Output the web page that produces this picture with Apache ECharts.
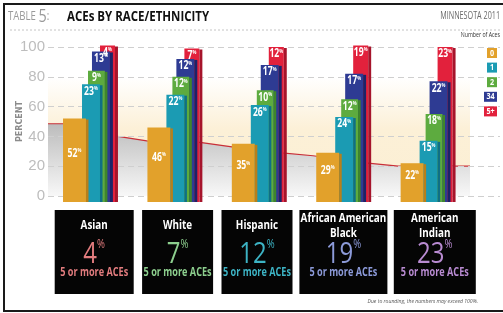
<!DOCTYPE html>
<html>
<head>
<meta charset="utf-8">
<script src="https://cdn.jsdelivr.net/npm/echarts@6/dist/echarts.min.js"></script>
<style>
  html, body { margin: 0; padding: 0; background: #fff; }
  #chart { width: 503px; height: 313px; }
</style>
</head>
<body>
<div id="chart"></div>
<script>
// groups and ACE levels
const categories = ['Asian', 'White', 'Hispanic', 'African American\nBlack', 'American\nIndian']
const aceLevels = ['0', '1', '2', '34', '5+']

// percent of each group with 0, 1, 2, 3-4, 5+ ACEs
const pctAce0 = [52, 46, 35, 29, 22]
const pctAce1 = [23, 22, 26, 24, 15]
const pctAce2 = [9, 12, 10, 12, 18]
const pctAce34 = [13, 12, 17, 17, 22]
const pctAce5 = [4, 7, 12, 19, 23]

// decorative floor line behind the bars [x in category units, percent]
const floorLine = [[-0.5, 48.5], [-0.32, 48.5], [0.33, 40], [0.67, 37], [1.3, 36], [1.68, 33],
  [2.27, 29], [2.64, 27], [3.29, 22], [3.65, 20], [4.5, 20]]

const yTicks = [0, 20, 40, 60, 80, 100]

// styling / layout
const FONT = "'Open Sans', 'Liberation Sans', sans-serif"
const barColors = ['#e2a12b', '#1b9bb3', '#5dab3f', '#2e3b93', '#e2213c']
const sideColors = ['#b87f1a', '#0f6f86', '#3f862a', '#1b2468', '#a6142b']
const barSlots = [
  { left: -0.322, width: 0.272, side: 0.03 },
  { left: -0.097, width: 0.213, side: 0.03 },
  { left: -0.026, width: 0.2, side: 0.03 },
  { left: 0.021, width: 0.213, side: 0.035 },
  { left: 0.116, width: 0.178, side: 0.035 }
]
const boxColors = ['#e27c7e', '#8dcf8e', '#3db4c5', '#8c9ad9', '#b98bd2']
const boxW = [79, 71, 71, 88, 82]
const boxDx = [4, 3, -2, 0, 7]

const levels = [pctAce0, pctAce1, pctAce2, pctAce34, pctAce5]

function makeRender(k, labelOnly) {
  return function (params, api) {
    const i = api.value(0)
    const top = api.value(1)
    const pct = api.value(2)
    const bw = api.size([1, 0])[0]
    const base = api.coord([i, 0])
    const head = api.coord([i, top])
    const slot = barSlots[k]
    const x = base[0] + slot.left * bw
    const w = slot.width * bw
    const sw = slot.side * bw
    const yTop = head[1]
    const yBot = base[1] + 6
    if (labelOnly) {
      const labelY = k === 0 ? (yTop + base[1]) / 2 - 4 : yTop + 7
      return {
        type: 'text', x: x + w / 2, y: labelY, scaleX: 0.72,
        style: {
          text: '{v|' + pct + '}{p|%}', align: 'center', verticalAlign: 'middle', fill: '#fff',
          rich: {
            v: { fontSize: 12, fontWeight: 'bold', fontFamily: FONT, fill: '#fff' },
            p: { fontSize: 6, fontWeight: 'bold', fontFamily: FONT, fill: '#fff', verticalAlign: 'top' }
          }
        }
      }
    }
    return {
      type: 'group',
      children: [
        { type: 'rect', shape: { x: x, y: yTop, width: w, height: yBot - yTop }, style: { fill: barColors[k] } },
        { type: 'rect', shape: { x: x + w, y: yTop + 1, width: sw, height: yBot - yTop - 1 }, style: { fill: sideColors[k] } }
      ]
    }
  }
}

function levelData(k) {
  return categories.map((c, i) => {
    let top = 0
    for (let j = 0; j <= k; j++) top += levels[j][i]
    return [i, top, levels[k][i]]
  })
}

const chart = echarts.init(document.getElementById('chart'))

const barSeries = levels.map((arr, k) => ({
  name: aceLevels[k],
  type: 'custom',
  z: 10 - k,
  renderItem: makeRender(k, false),
  encode: { x: 0, y: 1 },
  data: levelData(k)
}))
const labelSeries = levels.map((arr, k) => ({
  name: aceLevels[k] + ' label',
  type: 'custom',
  z: 20 - k,
  silent: true,
  renderItem: makeRender(k, true),
  encode: { x: 0, y: 1 },
  data: levelData(k)
}))

const option = {
  animation: false,
  grid: [
    {
      left: 48, right: 33, top: 47, bottom: 117, show: true, borderWidth: 0, z: 0,
      backgroundColor: {
        type: 'linear', x: 0, y: 0, x2: 0, y2: 1,
        colorStops: [
          { offset: 0, color: '#ffffff' },
          { offset: 0.2, color: '#ffffff' },
          { offset: 0.55, color: '#fcf0d7' },
          { offset: 1, color: '#fbefd3' }
        ]
      }
    },
    { left: 48, right: 3, top: 47, bottom: 117 }
  ],
  xAxis: [
    { type: 'category', gridIndex: 0, data: categories, show: false },
    { type: 'value', gridIndex: 0, min: -0.5, max: 4.5, show: false },
    { type: 'value', gridIndex: 1, show: false }
  ],
  yAxis: [
    { type: 'value', gridIndex: 0, min: 0, max: 100, show: false },
    {
      type: 'value', gridIndex: 1, min: yTicks[0], max: yTicks[yTicks.length - 1], interval: 20, z: 3,
      name: 'PERCENT', nameLocation: 'middle', nameRotate: 90, nameGap: 24, nameMoveOverlap: false,
      nameTextStyle: { fontSize: 8, fontWeight: 'bold', color: '#8c8c8c', fontFamily: 'DejaVu Sans, sans-serif' },
      axisLine: { show: false }, axisTick: { show: false },
      axisLabel: { margin: 3, fontSize: 15, color: '#bdbdbd', fontFamily: 'Liberation Sans, sans-serif' },
      splitLine: { lineStyle: { color: '#cfcfcf', type: [6, 4], width: 1 } }
    }
  ],
  series: [
    {
      type: 'line', xAxisIndex: 1, yAxisIndex: 0, z: 1, symbol: 'none', silent: true,
      data: floorLine,
      lineStyle: { color: '#c92f38', width: 1.2 },
      areaStyle: {
        opacity: 1,
        color: {
          type: 'linear', x: 0, y: 0, x2: 0, y2: 1,
          colorStops: [
            { offset: 0, color: '#bcbcbc' },
            { offset: 1, color: '#f8f8f8' }
          ]
        }
      }
    }
  ].concat(barSeries, labelSeries)
}

chart.setOption(option)

// annotations: header, legend, group boxes
function txt(x, y, text, style, sx) {
  return {
    type: 'text', z: 101, x: x, y: y, scaleX: sx || 1,
    style: Object.assign({ text: text, fontFamily: FONT, verticalAlign: 'middle' }, style)
  }
}

const graphics = []
graphics.push({
  type: 'rect', shape: { x: 4, y: 4, width: 520, height: 307 }, z: 100,
  style: { fill: 'none', stroke: '#1a1a1a', lineWidth: 2 }
})
graphics.push(txt(8, 17, '{a|TABLE }{b|5}{a|:}', {
  rich: {
    a: { fontSize: 12, fill: '#9a9a9a', fontFamily: FONT },
    b: { fontSize: 18, fill: '#9a9a9a', fontFamily: FONT }
  }
}, 0.8))
graphics.push(txt(67, 17, 'ACEs BY RACE/ETHNICITY', { fontSize: 14, fontWeight: 'bold', fill: '#111' }, 0.82))
graphics.push(txt(500, 16, 'MINNESOTA 2011', { fontSize: 10, fill: '#6a6a6a', align: 'right' }, 0.72))
graphics.push({
  type: 'line', z: 100, shape: { x1: 10, y1: 30, x2: 500, y2: 30 },
  style: { stroke: '#c4c4c4', lineWidth: 1, lineDash: [2, 2] }
})
graphics.push(txt(500, 35, 'Number of Aces', { fontSize: 7, fill: '#333', align: 'right' }, 0.75))
aceLevels.forEach((lv, k) => {
  const w = lv.length > 1 ? 13 : 10
  const x = 497 - w
  const y = 48 + k * 14.6
  graphics.push({ type: 'rect', z: 100, shape: { x: x, y: y, width: w, height: 10 }, style: { fill: barColors[k] } })
  graphics.push(txt(x + w / 2, y + 5, lv, { align: 'center', fontSize: 9, fontWeight: 'bold', fill: '#fff' }, 0.8))
})
categories.forEach((name, i) => {
  const cx = chart.convertToPixel({ xAxisIndex: 0 }, i) + boxDx[i]
  const w = boxW[i]
  const twoLines = name.indexOf('\n') >= 0
  graphics.push({ type: 'rect', z: 100, shape: { x: cx - w / 2, y: 210, width: w, height: 84 }, style: { fill: '#050505' } })
  graphics.push(txt(cx, twoLines ? 226 : 225, name,
    { align: 'center', fontSize: 13, fontWeight: 'bold', fill: '#fff', lineHeight: 15 }, 0.76))
  graphics.push(txt(cx, 254, '{n|' + pctAce5[i] + '}{p|%}', {
    align: 'center',
    rich: {
      n: { fontSize: 30, fill: boxColors[i], fontFamily: FONT },
      p: { fontSize: 12, fill: boxColors[i], fontFamily: FONT, verticalAlign: 'top' }
    }
  }, 0.8))
  graphics.push(txt(cx, 273, '5 or more ACEs',
    { align: 'center', fontSize: 12, fontWeight: 'bold', fill: boxColors[i] }, 0.76))
})
graphics.push(txt(478, 301, 'Due to rounding, the numbers may exceed 100%.',
  { align: 'right', fontSize: 6, fontStyle: 'italic', fill: '#555' }, 0.85))

chart.setOption({ graphic: graphics })

window.addEventListener('resize', () => chart.resize())
</script>
</body>
</html>
